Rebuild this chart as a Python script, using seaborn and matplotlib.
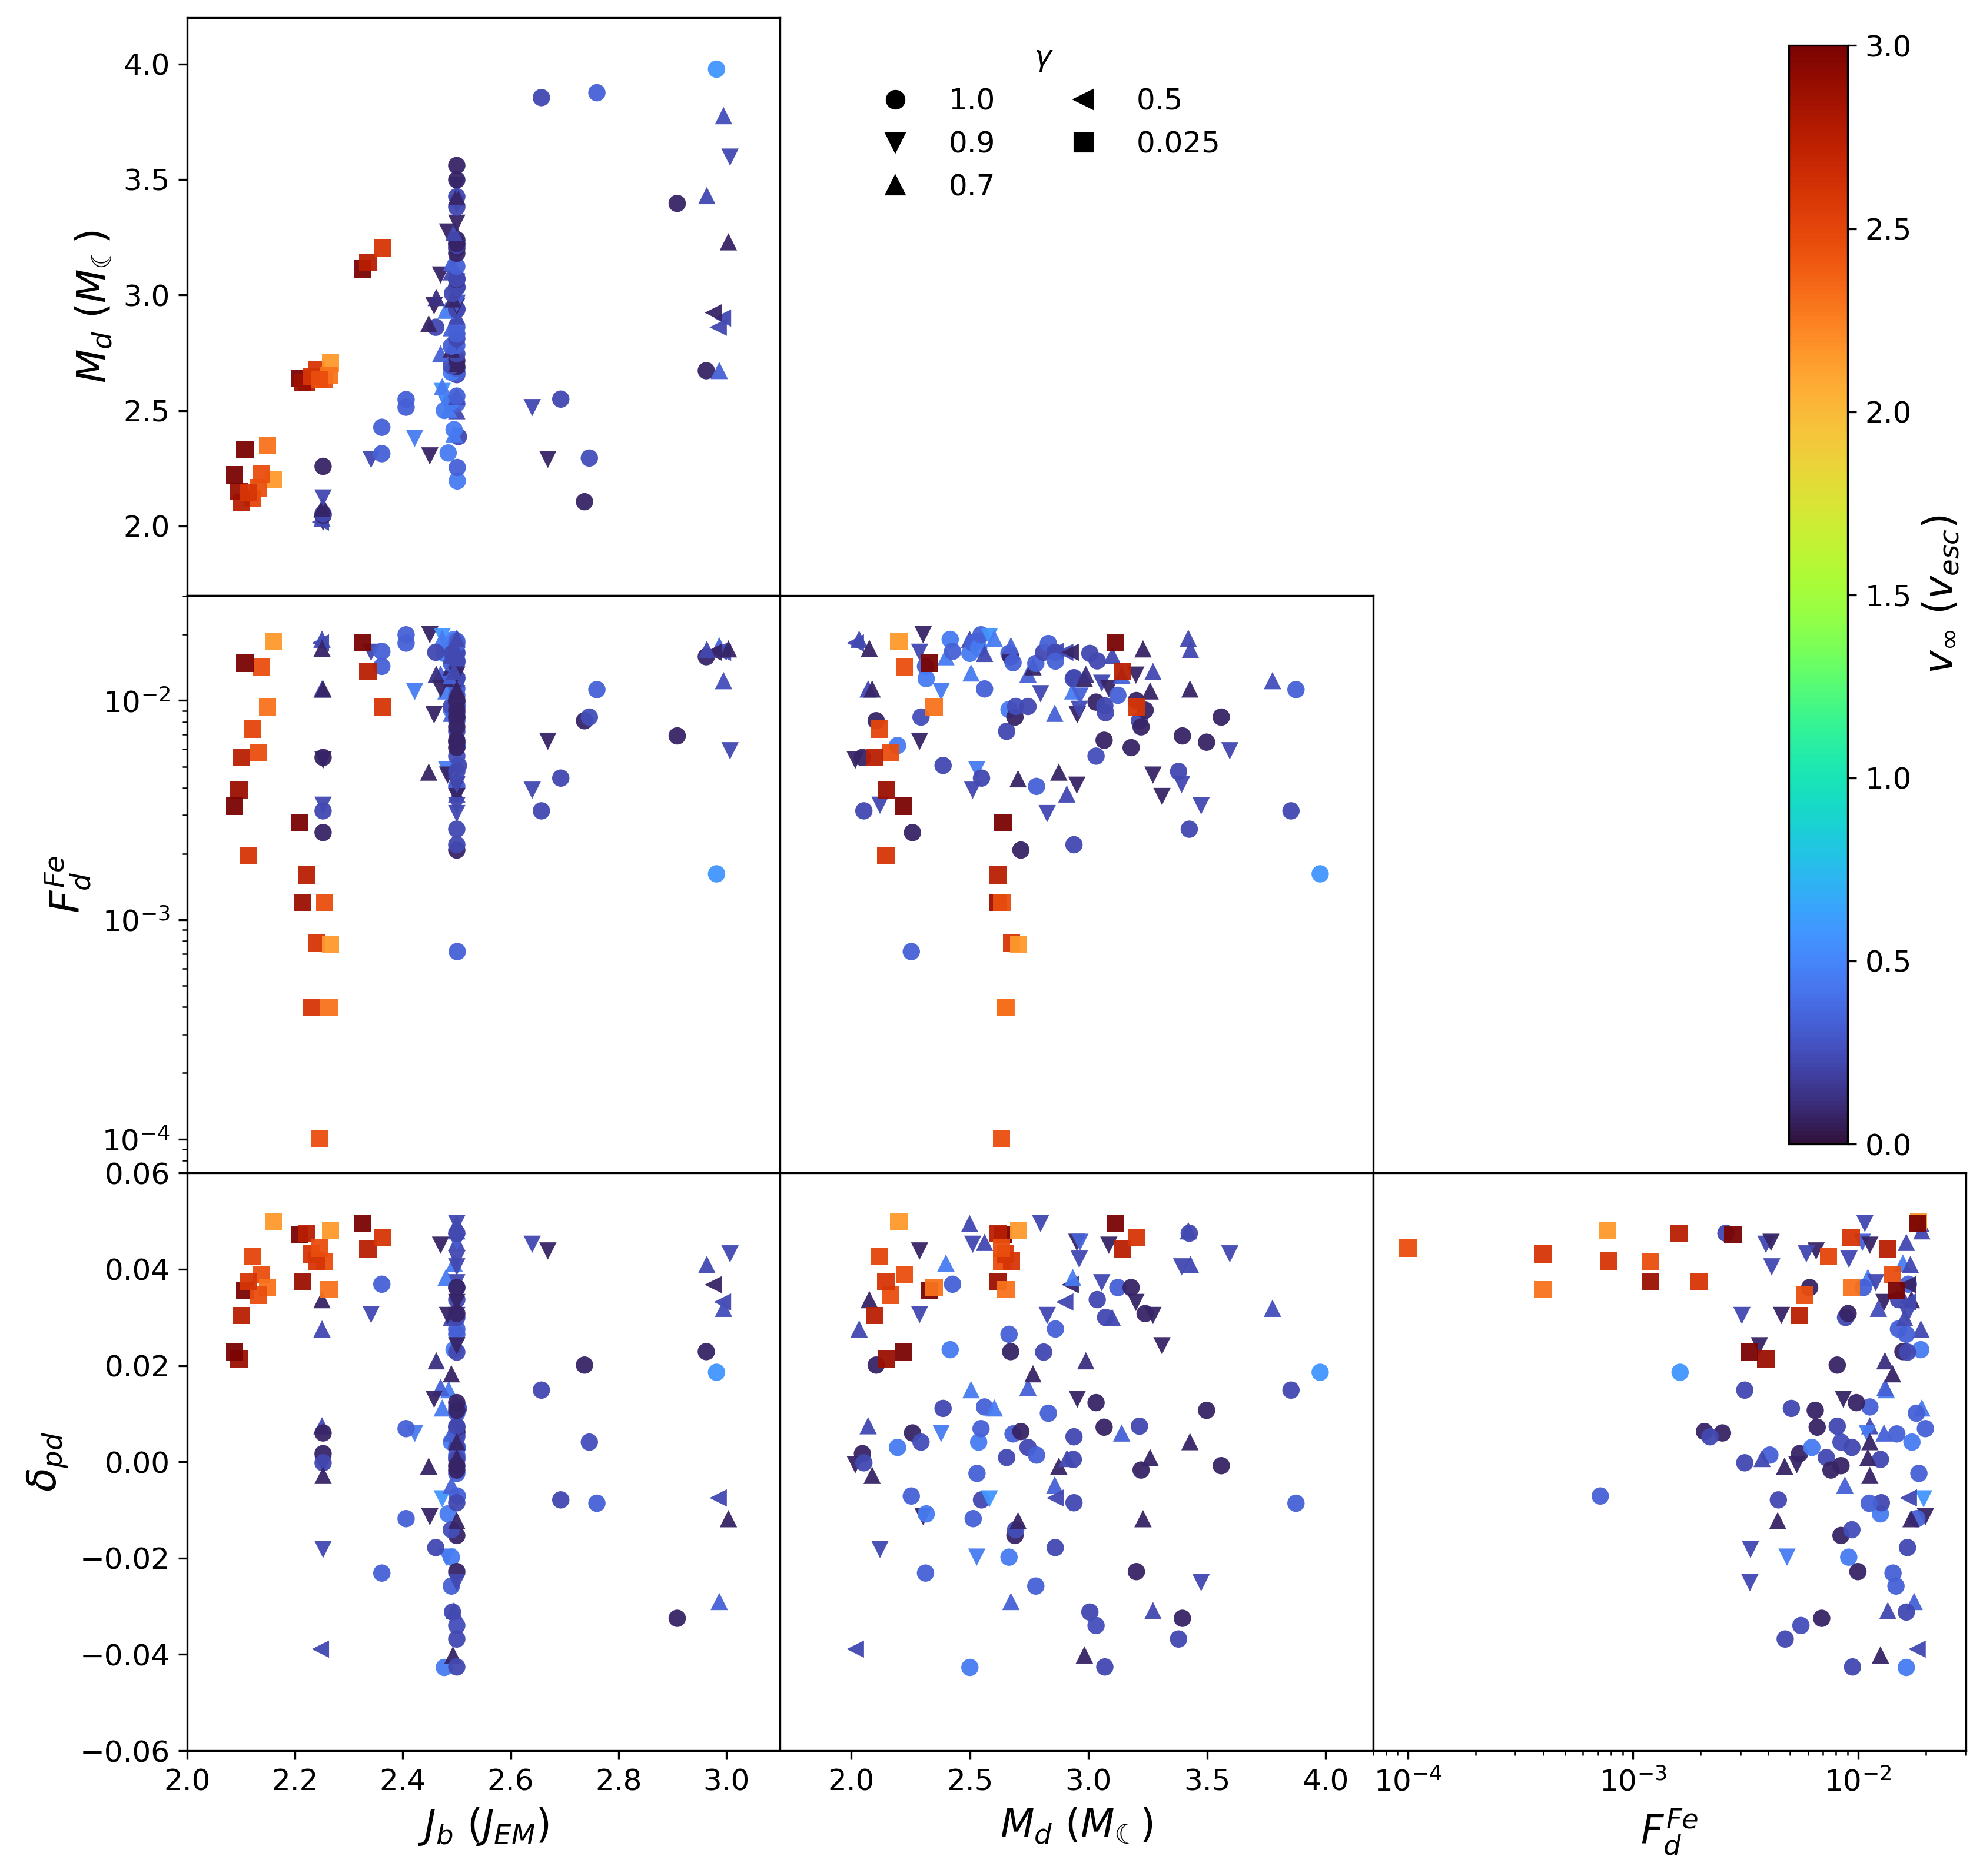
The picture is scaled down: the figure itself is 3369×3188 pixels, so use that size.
import numpy as np
import pandas as pd
import seaborn as sns
import matplotlib.pyplot as plt
from matplotlib.colors import Normalize
from matplotlib.cm import ScalarMappable
from matplotlib.lines import Line2D

# one row per run: J_b, M_d, F_d^Fe, delta_pd, v_inf, gamma
# gamma = 1.0, 0.9, 0.7, 0.5 runs
jb = [2.252, 2.247, 2.250, 2.252, 2.252, 2.250, 2.250, 2.252, 2.737, 2.252,
      2.501, 2.501, 2.252, 2.669, 2.341, 2.746, 2.450, 2.361, 2.484, 2.422,
      2.503, 2.495, 2.495, 2.361, 2.500, 2.477, 2.485, 2.640, 2.406, 2.481,
      2.500, 2.490, 2.406, 2.693, 2.500, 2.500, 2.473, 2.473, 2.500, 2.500,
      2.490, 2.963, 2.987, 2.500, 2.500, 2.490, 2.500, 2.500, 2.470, 2.500,
      2.490, 2.490, 2.500, 2.500, 2.500, 2.500, 2.500, 2.490, 2.985, 2.461,
      2.500, 2.448, 2.993, 2.500, 2.976, 2.480, 2.500, 2.500, 2.500, 2.500,
      2.458, 2.500, 2.500, 2.493, 2.462, 2.492, 2.500, 2.500, 2.500, 2.500,
      2.500, 2.500, 2.500, 2.470, 2.490, 2.500, 2.490, 2.500, 2.500, 2.500,
      2.500, 2.500, 3.004, 2.500, 2.500, 2.483, 2.495, 2.500, 2.500, 2.500,
      2.909, 2.500, 2.500, 2.500, 2.964, 2.500, 2.500, 2.500, 3.007, 2.995,
      2.657, 2.760, 2.982]
md = [2.017, 2.017, 2.033, 2.047, 2.053, 2.071, 2.076, 2.088, 2.105, 2.121,
      2.195, 2.253, 2.258, 2.288, 2.288, 2.294, 2.303, 2.313, 2.316, 2.379,
      2.387, 2.399, 2.417, 2.427, 2.499, 2.500, 2.505, 2.512, 2.514, 2.529,
      2.530, 2.537, 2.547, 2.549, 2.562, 2.562, 2.582, 2.603, 2.655, 2.665,
      2.665, 2.672, 2.673, 2.682, 2.690, 2.693, 2.703, 2.715, 2.745, 2.745,
      2.766, 2.778, 2.781, 2.798, 2.811, 2.826, 2.831, 2.858, 2.860, 2.860,
      2.861, 2.875, 2.900, 2.909, 2.923, 2.934, 2.936, 2.939, 2.939, 2.951,
      2.953, 2.961, 2.964, 2.983, 2.989, 3.006, 3.032, 3.032, 3.037, 3.056,
      3.066, 3.069, 3.072, 3.086, 3.100, 3.124, 3.140, 3.180, 3.200, 3.202,
      3.215, 3.222, 3.230, 3.239, 3.260, 3.272, 3.272, 3.310, 3.380, 3.393,
      3.396, 3.421, 3.425, 3.428, 3.430, 3.475, 3.498, 3.560, 3.596, 3.776,
      3.854, 3.875, 3.977]
fe = [0.00535, 0.01832, 0.01905, 0.00550, 0.00314, 0.01130, 0.01730, 0.01130, 0.00809, 0.00333,
      0.00624, 0.000716, 0.00250, 0.00652, 0.01660, 0.00841, 0.01995, 0.01432, 0.01259, 0.01099,
      0.00506, 0.01585, 0.01901, 0.01675, 0.01905, 0.01641, 0.01337, 0.00390, 0.01828, 0.00484,
      0.01866, 0.01738, 0.01995, 0.00443, 0.01641, 0.01130, 0.01959, 0.01923, 0.00724, 0.01641,
      0.00910, 0.01585, 0.01778, 0.01489, 0.00841, 0.00940, 0.00440, 0.00208, 0.01321, 0.00940,
      0.01426, 0.01476, 0.00406, 0.01074, 0.01660, 0.00305, 0.01820, 0.00875, 0.01675, 0.01660,
      0.01514, 0.00472, 0.01660, 0.00375, 0.01660, 0.01107, 0.01259, 0.00220, 0.01271, 0.00411,
      0.00861, 0.00912, 0.01047, 0.01259, 0.01318, 0.01641, 0.00984, 0.00558, 0.01517, 0.01199,
      0.00659, 0.00946, 0.00881, 0.01130, 0.01611, 0.01057, 0.01306, 0.00610, 0.01306, 0.01000,
      0.00809, 0.00759, 0.01722, 0.00904, 0.01107, 0.00457, 0.01358, 0.00365, 0.00475, 0.00414,
      0.00690, 0.01923, 0.00259, 0.01130, 0.01710, 0.00331, 0.00646, 0.00841, 0.00590, 0.01233,
      0.00314, 0.01122, 0.00162]
dpd = [-0.0006, -0.0389, 0.0276, 0.0017, -0.0002, 0.0075, 0.0337, -0.0028, 0.0201, -0.0182,
       0.0030, -0.0071, 0.0060, 0.0438, 0.0306, 0.0041, -0.0114, -0.0231, -0.0108, 0.0059,
       0.0111, 0.0413, 0.0233, 0.0369, 0.0495, -0.0427, 0.0150, 0.0452, -0.0118, -0.0198,
       -0.0024, 0.0041, 0.0069, -0.0079, 0.0456, 0.0114, -0.0077, 0.0112, 0.0009, 0.0265,
       -0.0198, 0.0229, -0.0290, 0.0058, -0.0153, -0.0141, -0.0122, 0.0063, 0.0155, 0.0030,
       0.0183, -0.0258, 0.0014, 0.0495, 0.0228, 0.0304, 0.0101, -0.0048, -0.0075, -0.0178,
       0.0276, -0.0009, 0.0332, 0.0007, 0.0368, 0.0383, 0.0005, 0.0052, -0.0085, 0.0456,
       0.0130, 0.0421, 0.0456, -0.0401, 0.0210, -0.0312, 0.0123, -0.0340, 0.0337, 0.0372,
       0.0072, -0.0426, 0.0300, 0.0450, 0.0300, 0.0362, 0.0060, 0.0362, 0.0331, -0.0228,
       0.0074, -0.0017, -0.0118, 0.0308, 0.0009, 0.0304, -0.0309, 0.0241, -0.0368, 0.0405,
       -0.0325, 0.0480, 0.0475, 0.0042, 0.0410, -0.0251, 0.0107, -0.0008, 0.0432, 0.0319,
       0.0149, -0.0086, 0.0186]
vinf = [0.08, 0.23, 0.23, 0.08, 0.23, 0.23, 0.08, 0.08, 0.08, 0.23,
        0.45, 0.33, 0.08, 0.08, 0.23, 0.25, 0.08, 0.33, 0.45, 0.45,
        0.23, 0.45, 0.45, 0.33, 0.23, 0.45, 0.45, 0.23, 0.33, 0.45,
        0.33, 0.45, 0.33, 0.23, 0.23, 0.33, 0.58, 0.45, 0.23, 0.33,
        0.45, 0.08, 0.33, 0.33, 0.08, 0.25, 0.08, 0.08, 0.33, 0.23,
        0.08, 0.33, 0.33, 0.23, 0.23, 0.23, 0.33, 0.33, 0.23, 0.23,
        0.33, 0.08, 0.23, 0.23, 0.08, 0.45, 0.23, 0.23, 0.23, 0.08,
        0.08, 0.23, 0.33, 0.08, 0.12, 0.23, 0.08, 0.25, 0.23, 0.23,
        0.08, 0.23, 0.23, 0.08, 0.23, 0.33, 0.33, 0.08, 0.08, 0.08,
        0.23, 0.08, 0.08, 0.08, 0.08, 0.08, 0.23, 0.08, 0.23, 0.23,
        0.08, 0.23, 0.23, 0.08, 0.23, 0.23, 0.08, 0.08, 0.23, 0.25,
        0.23, 0.33, 0.58]
gam = ['0.9', '0.5', '0.7', '1.0', '1.0', '0.7', '0.7', '0.7', '1.0', '0.9',
       '1.0', '1.0', '1.0', '0.9', '0.9', '1.0', '0.9', '1.0', '1.0', '0.9',
       '1.0', '0.7', '1.0', '1.0', '0.7', '1.0', '0.7', '0.9', '1.0', '0.9',
       '1.0', '1.0', '1.0', '1.0', '0.7', '1.0', '0.9', '0.7', '1.0', '1.0',
       '1.0', '1.0', '0.7', '1.0', '1.0', '1.0', '0.7', '1.0', '0.7', '1.0',
       '0.7', '1.0', '1.0', '0.9', '1.0', '0.9', '1.0', '0.7', '0.5', '1.0',
       '1.0', '0.7', '0.5', '0.7', '0.5', '0.7', '1.0', '1.0', '1.0', '0.9',
       '0.9', '0.9', '0.9', '0.7', '0.7', '1.0', '1.0', '1.0', '1.0', '0.9',
       '1.0', '1.0', '1.0', '0.9', '0.7', '1.0', '0.7', '1.0', '0.9', '1.0',
       '1.0', '1.0', '0.7', '1.0', '0.7', '0.9', '0.7', '0.9', '1.0', '0.9',
       '1.0', '0.7', '1.0', '0.7', '0.7', '0.9', '1.0', '1.0', '0.9', '0.7',
       '1.0', '1.0', '1.0']

# gamma = 0.025 runs
jb_sq = [2.160, 2.137, 2.107, 2.149, 2.121, 2.132, 2.101, 2.096, 2.088, 2.114, 2.209,
         2.222, 2.214, 2.255, 2.240, 2.266, 2.231, 2.263, 2.245, 2.325, 2.335, 2.362]
md_sq = [2.200, 2.224, 2.331, 2.349, 2.120, 2.165, 2.100, 2.150, 2.221, 2.146, 2.640,
         2.620, 2.620, 2.635, 2.675, 2.705, 2.648, 2.652, 2.633, 3.112, 3.142, 3.204]
fe_sq = [0.0186, 0.0142, 0.0148, 0.00935, 0.00741, 0.00578, 0.00550, 0.00390, 0.00330, 0.00196, 0.00278,
         0.00160, 0.00120, 0.00120, 0.000782, 0.000773, 0.000398, 0.000398, 0.000100, 0.0184, 0.0136, 0.00933]
dpd_sq = [0.0499, 0.0389, 0.0356, 0.0362, 0.0427, 0.0346, 0.0304, 0.0214, 0.0228, 0.0375, 0.0472,
          0.0474, 0.0375, 0.0415, 0.0417, 0.0481, 0.0432, 0.0358, 0.0444, 0.0496, 0.0443, 0.0466]
vinf_sq = [2.15, 2.45, 3.0, 2.3, 2.5, 2.45, 2.75, 2.88, 3.0, 2.6, 3.0,
           2.75, 2.88, 2.45, 2.6, 2.15, 2.6, 2.3, 2.45, 3.0, 2.75, 2.6]

df = pd.DataFrame({'jb': jb + jb_sq, 'md': md + md_sq, 'fe': fe + fe_sq,
                   'dpd': dpd + dpd_sq, 'vinf': vinf + vinf_sq,
                   'gamma': gam + ['0.025'] * len(jb_sq)})

plt.rcParams['font.family'] = ['DejaVu Sans']
plt.rcParams['mathtext.fontset'] = 'dejavusans'

markers = {'1.0': 'o', '0.9': 'v', '0.7': '^', '0.5': '<', '0.025': 's'}
cols = ['jb', 'md', 'fe']
rows = ['md', 'fe', 'dpd']
labels = {'jb': '$J_b$ ($J_{EM}$)', 'md': '$M_d$ ($M_{\u263e}$)',
          'fe': '$F_d^{Fe}$', 'dpd': r'$\delta_{pd}$'}
lims = {'jb': (2.0, 3.1), 'md': (1.7, 4.2), 'fe': (7e-5, 0.0302), 'dpd': (-0.06, 0.06)}
ticks = {'jb': np.arange(2.0, 3.01, 0.2), 'md': np.arange(2.0, 4.01, 0.5),
         'dpd': np.arange(-0.06, 0.061, 0.02)}

fig, axes = plt.subplots(3, 3, figsize=(3370 / 300, 3188 / 300), dpi=300)
fig.subplots_adjust(left=0.0944, right=0.9911, bottom=0.0668, top=0.9906,
                    wspace=0, hspace=0)

for i in range(3):
    for j in range(3):
        ax = axes[i, j]
        if j > i:
            ax.axis('off')
            continue
        xv, yv = cols[j], rows[i]
        sns.scatterplot(data=df, x=xv, y=yv, hue='vinf', hue_norm=(0, 3),
                        palette='turbo', style='gamma', markers=markers,
                        s=50, linewidth=0, alpha=0.95, legend=False, ax=ax)
        if xv == 'fe':
            ax.set_xscale('log')
        else:
            ax.set_xticks(ticks[xv])
        if yv == 'fe':
            ax.set_yscale('log')
        else:
            ax.set_yticks(ticks[yv])
        ax.set_xlim(lims[xv])
        ax.set_ylim(lims[yv])
        ax.tick_params(which='major', labelsize=12)
        ax.set_xlabel('')
        ax.set_ylabel('')
        if i == 2:
            ax.set_xlabel(labels[xv], fontsize=16)
        else:
            ax.tick_params(which='both', bottom=False, labelbottom=False)
        if j == 0:
            ax.set_ylabel(labels[yv], fontsize=16)
        else:
            ax.tick_params(which='both', left=False, labelleft=False)

# colour bar for v_inf
cax = fig.add_axes([0.9018, 0.3902, 0.0297, 0.5855])
cb = fig.colorbar(ScalarMappable(norm=Normalize(0, 3), cmap='turbo'), cax=cax)
cb.set_label(r'$v_\infty$ ($v_{esc}$)', fontsize=16)
cb.ax.tick_params(labelsize=12)

# marker legend for gamma
handles = [Line2D([], [], marker=markers[g], color='k', linestyle='', markersize=7, label=g)
           for g in ['1.0', '0.9', '0.7', '0.5', '0.025']]
fig.legend(handles=handles, title=r'$\gamma$', ncol=2, frameon=False,
           loc='upper center', bbox_to_anchor=(0.526, 0.991),
           fontsize=12, title_fontsize=12)

fig.savefig('out.png', dpi=300)
